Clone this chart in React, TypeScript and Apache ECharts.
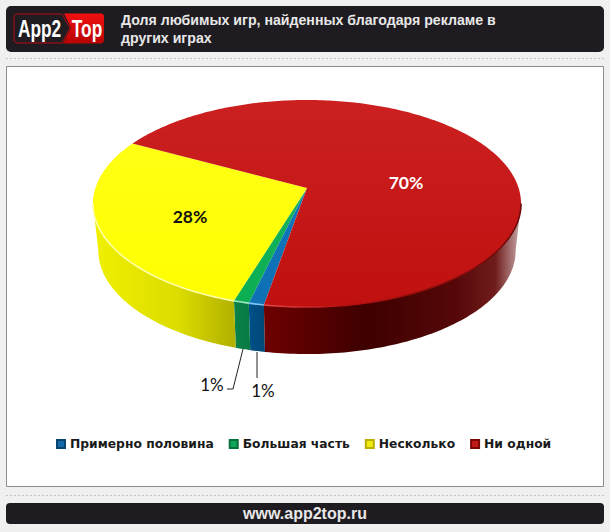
import React, { useEffect, useRef } from "react";
import * as echarts from "echarts";

const categories = ["Примерно половина", "Большая часть", "Несколько", "Ни одной"];
const shares = [1, 1, 28, 70];
const titleLines = ["Доля любимых игр, найденных благодаря рекламе в", "других играх"];
const footerText = "www.app2top.ru";

const legendColors = ["#1268a8", "#0fa858", "#f2ea10", "#c01818"];
const legendBorders = ["#0a4470", "#08703a", "#b8b000", "#7c0808"];
const topFills: string[][] = [
  ["#0f74bc", "#0f70b4"],
  ["#12b25a", "#0cae54"],
  ["#ffff14", "#ffff00"],
  ["#cc2020", "#c01010"],
];
const rimColors = ["#7cc4f0", "#9fe6c0", "#ffffa8", "#e04848"];
const wallStops: [number, string][][] = [
  [[0, "#005088"], [1, "#004878"]],
  [[0, "#0a8248"], [1, "#087a42"]],
  [[0, "#f0f000"], [0.6, "#dcdc00"], [1, "#b0b000"]],
  [[0, "#6e0000"], [0.4, "#3e0000"], [0.75, "#560808"], [0.9, "#701c1c"], [1, "#c8aaaa"]],
];

// Perspective layout of the disc
const CX = 307;
const APEX_Y = 188;
const R = 211.6;
const PERSP = -0.15;
const YK = 73;
const DEPTH = 47;
const BOTTOM_SCALE = 0.975;
const START_DEG = 10; // clockwise from the front of the disc
const VIS_DEG = 81.4;

const rad = (d: number) => (d * Math.PI) / 180;
function topPoint(deg: number): [number, number] {
  const u = -Math.sin(rad(deg));
  const v = Math.cos(rad(deg));
  const d = 1 + PERSP * v;
  return [CX + (R * u) / d, (YK * v + APEX_Y) / d];
}
function bottomPoint(deg: number): [number, number] {
  const [x, y] = topPoint(deg);
  return [CX + (x - CX) * BOTTOM_SCALE, y + DEPTH];
}
function arc(a: number, b: number, f: (d: number) => [number, number]) {
  const n = Math.max(2, Math.ceil(Math.abs(b - a)));
  const pts: [number, number][] = [];
  for (let i = 0; i <= n; i++) pts.push(f(a + ((b - a) * i) / n));
  return pts;
}

const total = shares.reduce((s, v) => s + v, 0);
const cumulative = shares.map((_, i) => shares.slice(0, i).reduce((s, v) => s + v, 0));

type Lab = { x: number; y: number; fill: string; weight: string; size: number; leader?: number[][] };
const labelLayout: Lab[] = [
  { x: 263, y: 390, fill: "#111", weight: "normal", size: 17, leader: [[257, 352], [257, 378]] },
  { x: 212, y: 384, fill: "#111", weight: "normal", size: 17, leader: [[243, 349], [233, 389], [227, 389]] },
  { x: 190, y: 216, fill: "#111", weight: "bold", size: 17.5 },
  { x: 406, y: 182, fill: "#fff", weight: "bold", size: 17.5 },
];

function renderSlice(params: any, api: any) {
  const i = params.seriesIndex;
  const value = api.value(0);
  const before = api.value(1);
  const a = START_DEG + (before / total) * 360;
  const b = a + (value / total) * 360;
  const children: any[] = [];

  // visible wall: part of the sweep on the front of the disc
  const ranges: [number, number][] = [];
  const from = Math.max(a, -VIS_DEG);
  const to = Math.min(b, VIS_DEG);
  if (to > from) ranges.push([from, to]);
  if (b - 360 > -VIS_DEG) ranges.push([-VIS_DEG, Math.min(b - 360, VIS_DEG)]);
  ranges.forEach(([s, e]) => {
    const t = arc(s, e, topPoint);
    const bt = arc(s, e, bottomPoint).reverse();
    children.push({
      type: "polygon",
      z2: 1,
      shape: { points: t.concat(bt) },
      style: {
        fill: new echarts.graphic.LinearGradient(
          0, 0, 1, 0,
          wallStops[i].map(([offset, color]) => ({ offset, color }))
        ),
      },
    });
  });

  // top face
  children.push({
    type: "polygon",
    z2: 2,
    shape: { points: [[CX, APEX_Y] as [number, number]].concat(arc(a, b, topPoint)) },
    style: {
      fill: new echarts.graphic.LinearGradient(0, 0, 0, 1, [
        { offset: 0, color: topFills[i][0] },
        { offset: 1, color: topFills[i][1] },
      ]),
    },
  });
  // rim highlight along the front edge
  ranges.forEach(([s, e]) => {
    children.push({
      type: "polyline",
      z2: 3,
      shape: { points: arc(s, e, topPoint) },
      style: {
        fill: "none",
        lineWidth: 1.6,
        stroke: i === 3
          ? new echarts.graphic.LinearGradient(0, 0, 1, 0, [
              { offset: 0, color: "#e04848" },
              { offset: 0.3, color: "#b81010" },
              { offset: 1, color: "#6a0808" },
            ])
          : rimColors[i],
      },
    });
  });

  const lab = labelLayout[i];
  if (lab.leader) {
    children.push({
      type: "polyline",
      z2: 4,
      shape: { points: lab.leader },
      style: { fill: "none", stroke: "#222", lineWidth: 1 },
    });
  }
  children.push({
    type: "text",
    z2: 5,
    x: lab.x,
    y: lab.y,
    style: {
      text: `${value}%`,
      fill: lab.fill,
      font: `${lab.weight} ${lab.size}px Lato`,
      textAlign: "center",
      textVerticalAlign: "middle",
    },
  });
  return { type: "group", children };
}

function dashes(y: number) {
  return {
    type: "line",
    shape: { x1: 6, y1: y, x2: 604, y2: y },
    style: { stroke: "#c4c4c4", lineWidth: 1, lineDash: [2, 2] },
  };
}

export default function App() {
  const ref = useRef<HTMLDivElement>(null);
  useEffect(() => {
    document.body.style.margin = "0";
    const chart = echarts.init(ref.current!, undefined, { renderer: "svg" });
    chart.setOption({
      animation: false,
      backgroundColor: "#f0f0f0",
      legend: {
        data: categories,
        left: 51,
        top: 433,
        icon: "rect",
        itemWidth: 8,
        itemHeight: 8,
        itemGap: 15,
        textStyle: { fontFamily: "DejaVu Sans", fontWeight: "bold", fontSize: 12.3, color: "#1a1a1a" },
        selectedMode: false,
      },
      series: categories.map((name, i) => ({
        type: "custom",
        name,
        coordinateSystem: "none",
        silent: true,
        z: 3,
        itemStyle: { color: legendColors[i], borderColor: legendBorders[i], borderWidth: 1 },
        data: [[shares[i], cumulative[i]]],
        renderItem: renderSlice,
      })),
      graphic: [
        {
          type: "group",
          z: 0,
          silent: true,
          children: [
            { type: "rect", shape: { x: 6, y: 6, width: 598, height: 46, r: 5 }, style: { fill: "#1f1c21" } },
            dashes(58.5),
            { type: "rect", shape: { x: 6.5, y: 66.5, width: 597, height: 420 }, style: { fill: "#fff", stroke: "#8c8c8c", lineWidth: 1 } },
            dashes(495.5),
            { type: "rect", shape: { x: 6, y: 503, width: 598, height: 21, r: 4 }, style: { fill: "#1f1c21" } },
            // logo
            {
              type: "polygon",
              shape: { points: [[14, 16], [16, 14], [62, 14], [70, 28], [62, 43], [16, 43], [14, 41]] },
              style: { fill: "#201c20", stroke: "#b80a14", lineWidth: 1 },
            },
            {
              type: "polygon",
              shape: { points: [[64, 13.5], [102, 13.5], [104, 15.5], [104, 41], [102, 43.5], [63, 43.5], [71, 28]] },
              style: {
                fill: new echarts.graphic.LinearGradient(0, 0, 0, 1, [
                  { offset: 0, color: "#f01010" },
                  { offset: 1, color: "#b80404" },
                ]),
              },
            },
            {
              type: "text", x: 39.5, y: 28.5, scaleX: 0.72,
              style: { text: "App2", fill: "#fff", font: "bold 24px 'Liberation Sans'", textAlign: "center", textVerticalAlign: "middle" },
            },
            {
              type: "text", x: 87, y: 28.5, scaleX: 0.72,
              style: { text: "Top", fill: "#fff", font: "bold 24px 'Liberation Sans'", textAlign: "center", textVerticalAlign: "middle" },
            },
            {
              type: "text", x: 121, y: 19.5,
              style: { text: titleLines[0], fill: "#e8e8e8", font: "bold 14.15px 'Liberation Sans'", textVerticalAlign: "middle" },
            },
            {
              type: "text", x: 121, y: 37.5,
              style: { text: titleLines[1], fill: "#e8e8e8", font: "bold 14.15px 'Liberation Sans'", textVerticalAlign: "middle" },
            },
            {
              type: "text", x: 305, y: 513,
              style: { text: footerText, fill: "#e8e8e8", font: "bold 16px 'Liberation Sans'", textAlign: "center", textVerticalAlign: "middle" },
            },
          ],
        },
      ],
    });
    return () => chart.dispose();
  }, []);
  return <div ref={ref} style={{ width: 610, height: 532 }} />;
}
